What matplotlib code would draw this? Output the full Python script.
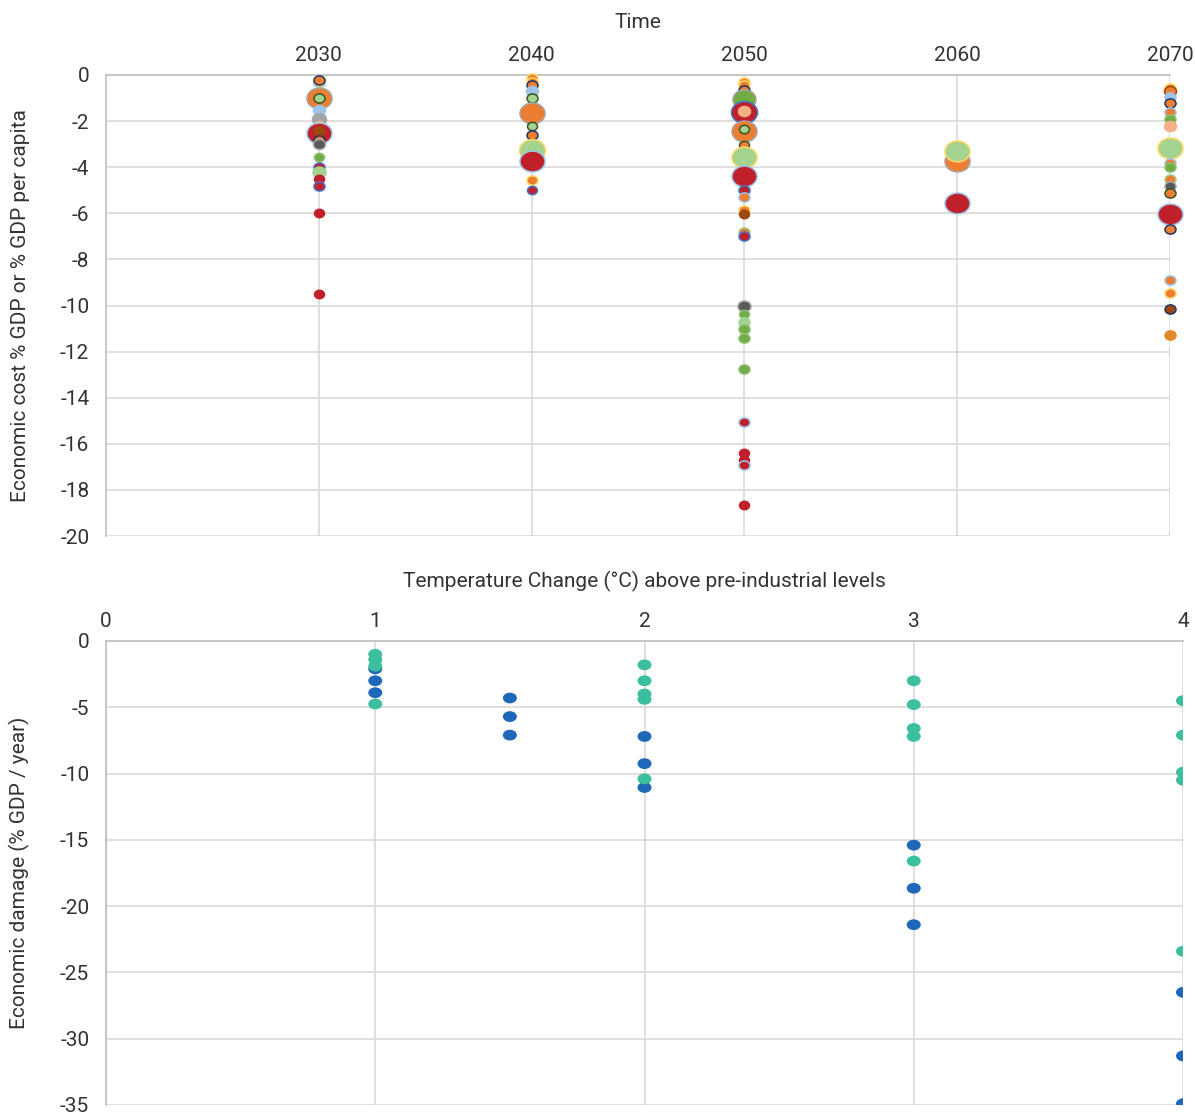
import matplotlib
matplotlib.use("Agg")
import matplotlib.pyplot as plt
from matplotlib.path import Path
from matplotlib.transforms import Affine2D

plt.rcParams['font.family'] = ['Roboto', 'DejaVu Sans']
plt.rcParams['axes.unicode_minus'] = False

# ---------------- data: top chart (economic cost over time) ----------------
top_years = [2030, 2030, 2030, 2030, 2030, 2030, 2030, 2030, 2030, 2030, 2030, 2030, 2030, 2030, 2030, 2030, 2030, 2030, 2030,
             2040, 2040, 2040, 2040, 2040, 2040, 2040, 2040, 2040, 2040, 2040, 2040,
             2050, 2050, 2050, 2050, 2050, 2050, 2050, 2050, 2050, 2050, 2050, 2050, 2050, 2050, 2050, 2050, 2050,
             2050, 2050, 2050, 2050, 2050, 2050, 2050, 2050, 2050, 2050, 2050,
             2060, 2060, 2060,
             2070, 2070, 2070, 2070, 2070, 2070, 2070, 2070, 2070, 2070, 2070, 2070, 2070, 2070, 2070, 2070, 2070, 2070, 2070]
top_values = [-0.3, -0.25, -0.2, -1.0, -1.5, -1.9, -2.2, -1.0, -2.5, -2.45, -2.8, -3.0, -3.55, -4.0, -4.2, -4.5, -4.8, -6.0, -9.5,
              -0.15, -0.3, -0.45, -0.7, -1.0, -1.65, -2.2, -2.6, -3.25, -3.75, -4.55, -5.0,
              -0.3, -0.45, -0.65, -1.05, -1.6, -1.55, -2.45, -2.35, -3.05, -3.55, -4.4, -5.0, -5.3, -5.85, -6.05, -6.8, -7.0,
              -10.0, -10.35, -10.7, -11.0, -11.4, -12.75, -15.05, -16.4, -16.7, -16.9, -18.65,
              -3.75, -3.3, -5.55,
              -0.55, -0.7, -0.95, -1.2, -1.6, -1.9, -2.2, -3.15, -3.8, -4.0, -4.5, -4.8, -5.1, -6.05, -6.7, -8.9, -9.45, -10.15, -11.3]
top_bubble = [12, 11, 11, 25, 12, 14, 11, 11, 25, 11, 11, 12, 10, 11, 13, 10, 11, 10, 10,
              11, 11, 11, 12, 11, 25, 10, 11, 26, 25, 11, 10,
              11, 11, 11, 23, 26, 12, 25, 10, 10, 25, 25, 11, 11, 11, 10, 11, 11,
              13, 10, 11, 11, 11, 11, 11, 10, 10, 11, 10,
              25, 25, 25,
              11, 12, 11, 11, 11, 11, 12, 25, 11, 11, 11, 11, 11, 25, 11, 11, 11, 11, 11]
top_series = ['N', 'I', 'A', 'B', 'N', 'K', 'I', 'C', 'D', 'M', 'A', 'E', 'F', 'H', 'G0', 'Q', 'H', 'Q', 'Q',
              'I', 'I', 'A', 'N', 'C', 'B', 'C', 'A', 'G', 'D', 'I', 'H',
              'I', 'I', 'A', 'R', 'H', 'L', 'B', 'C', 'P', 'G', 'D', 'H', 'J', 'I', 'M', 'O', 'H',
              'E', 'F', 'G0', 'F', 'F', 'F', 'D', 'Q', 'Q', 'D', 'Q',
              'B', 'G', 'D',
              'I', 'S', 'N', 'A', 'J', 'F', 'L', 'G', 'J', 'F', 'O', 'E', 'P', 'D', 'A', 'J', 'I', 'T', 'U']

# ---------------- data: bottom chart (damage vs temperature) ----------------
blue_temp = [1, 1, 1, 1.5, 1.5, 1.5, 2, 2, 2, 3, 3, 3, 4, 4, 4]
blue_damage = [-2.1, -3.0, -3.9, -4.3, -5.7, -7.1, -7.2, -9.25, -11.05, -15.4, -18.65, -21.4, -26.5, -31.3, -34.9]
teal_temp = [1, 1, 1, 1, 2, 2, 2, 2, 2, 3, 3, 3, 3, 3, 4, 4, 4, 4, 4]
teal_damage = [-1.0, -1.4, -1.9, -4.75, -1.8, -3.0, -4.0, -4.4, -10.4, -3.0, -4.8, -6.6, -7.2, -16.6,
               -4.5, -7.1, -9.9, -10.5, -23.4]

top_xticks = [2030, 2040, 2050, 2060, 2070]
top_yticks = list(range(0, -21, -2))
bot_xticks = [0, 1, 2, 3, 4]
bot_yticks = list(range(0, -36, -5))

# ---------------- styles ----------------
ORANGE = '#ed7d31'
LGREEN = '#a4d28f'
RED = '#c0202a'
GREEN = '#70ad47'
DGREY = '#595959'
GREY = '#a5a5a5'
LBLUE = '#9dc3e6'
NAVY = '#203864'
MBLUE = '#4472c4'
YELLOW = '#ffd966'
SALMON = '#f4b183'
BROWN = '#9e480e'
DKGREEN = '#375623'
series_style = {
    'A': (ORANGE, NAVY), 'B': (ORANGE, GREY), 'C': (LGREEN, DKGREEN), 'D': (RED, LBLUE),
    'E': (DGREY, GREY), 'F': (GREEN, '#8fbf6e'), 'G': (LGREEN, YELLOW), 'G0': (LGREEN, LGREEN),
    'H': (RED, MBLUE), 'I': (ORANGE, YELLOW), 'J': (ORANGE, LBLUE), 'K': (GREY, GREY),
    'L': (SALMON, SALMON), 'M': (BROWN, BROWN), 'N': (LBLUE, LBLUE), 'O': (ORANGE, LGREEN),
    'P': (ORANGE, DKGREEN), 'Q': (RED, RED), 'R': (GREEN, GREY), 'S': (ORANGE, BROWN),
    'T': (BROWN, NAVY), 'U': ('#e28a2b', '#e28a2b'),
}
TEAL = '#3cbf9f'
BLUE = '#1f67b8'
TXT = '#333333'
GRID = '#d9d9d9'
SPINE = '#bfbfbf'
FS = 15

def ellipse(aspect):
    return Path.unit_circle().transformed(Affine2D().scale(aspect, 1.0))

def px_to_s(px):
    return (px * 72.0 / 100.0) ** 2

fig = plt.figure(figsize=(11.95, 11.15), dpi=100)

def style_axes(ax):
    ax.xaxis.tick_top()
    ax.xaxis.set_label_position('top')
    ax.grid(True, color=GRID, linewidth=1.2)
    ax.set_axisbelow(True)
    ax.tick_params(axis='both', length=0, labelsize=FS, labelcolor=TXT)
    ax.tick_params(axis='x', pad=7)
    ax.tick_params(axis='y', pad=12)
    for side in ['right', 'bottom']:
        ax.spines[side].set_visible(False)
    for side in ['left', 'top']:
        ax.spines[side].set_color(SPINE)
        ax.spines[side].set_linewidth(1.2)

# ---------------- top axes ----------------
ax1 = fig.add_axes([106 / 1195, 1 - 536 / 1115, 1064 / 1195, 461 / 1115])
ax1.set_xlim(2020, 2070)
ax1.set_ylim(-20, 0)
ax1.set_xticks(top_xticks)
ax1.set_yticks(top_yticks)
style_axes(ax1)
ax1.set_xlabel('Time', fontsize=FS, color=TXT, labelpad=13)
ax1.set_ylabel('Economic cost % GDP or % GDP per capita', fontsize=FS, color=TXT, labelpad=22)

m_top = ellipse(1.2)
for yr, val, b, ser in zip(top_years, top_values, top_bubble, top_series):
    fc, ec = series_style[ser]
    ax1.scatter([yr], [val], s=px_to_s(b), marker=m_top, facecolor=fc, edgecolor=ec,
                linewidth=1.1, clip_on=False, zorder=3)

# ---------------- bottom axes ----------------
ax2 = fig.add_axes([106 / 1195, 1 - 1105 / 1115, 1077 / 1195, 464 / 1115])
ax2.set_xlim(0, 4)
ax2.set_ylim(-35, 0)
ax2.set_xticks(bot_xticks)
ax2.set_yticks(bot_yticks)
style_axes(ax2)
ax2.set_xlabel('Temperature Change (°C) above pre-industrial levels', fontsize=FS, color=TXT, labelpad=18)
ax2.set_ylabel('Economic damage (% GDP / year)', fontsize=FS, color=TXT, labelpad=22)

m_bot = ellipse(1.3)
ax2.scatter(blue_temp, blue_damage, s=px_to_s(14), marker=m_bot, facecolor=BLUE,
            edgecolor='none', zorder=3, clip_on=True)
ax2.scatter(teal_temp, teal_damage, s=px_to_s(14), marker=m_bot, facecolor=TEAL,
            edgecolor='none', zorder=3, clip_on=True)

fig.savefig('out.png', dpi=100)
